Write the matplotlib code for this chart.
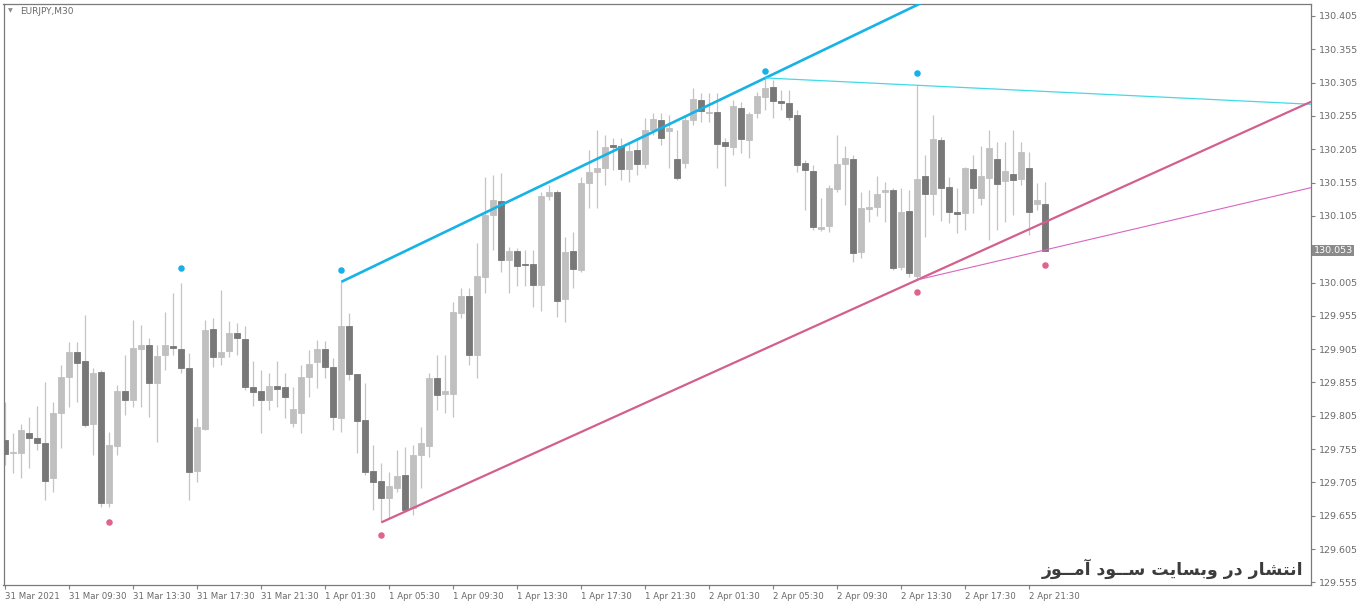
import matplotlib
matplotlib.use("Agg")
import matplotlib.pyplot as plt
import matplotlib.transforms as mtransforms

# EURJPY M30 - velas (31 Mar 05:30 .. 2 Apr 22:30)
opens = [129.768, 129.749, 129.749, 129.779, 129.771, 129.764, 129.711, 129.809, 129.863, 129.900,
         129.887, 129.792, 129.870, 129.674, 129.759, 129.842, 129.828, 129.905, 129.911, 129.854,
         129.896, 129.909, 129.905, 129.876, 129.722, 129.785, 129.935, 129.893, 129.902, 129.929,
         129.920, 129.848, 129.842, 129.828, 129.849, 129.848, 129.794, 129.809, 129.863, 129.885,
         129.905, 129.878, 129.801, 129.939, 129.867, 129.798, 129.722, 129.707, 129.681, 129.696,
         129.716, 129.666, 129.746, 129.759, 129.861, 129.837, 129.837, 129.959, 129.985, 129.896,
         130.013, 130.106, 130.127, 130.039, 130.052, 130.033, 130.033, 130.001, 130.135, 130.141,
         129.980, 130.052, 130.024, 130.154, 130.171, 130.177, 130.211, 130.210, 130.175, 130.204,
         130.183, 130.234, 130.249, 130.232, 130.190, 130.184, 130.249, 130.279, 130.259, 130.261,
         130.216, 130.208, 130.267, 130.219, 130.259, 130.283, 130.298, 130.277, 130.274, 130.256,
         130.184, 130.172, 130.085, 130.090, 130.145, 130.183, 130.190, 130.051, 130.115, 130.118,
         130.141, 130.144, 130.028, 130.112, 130.015, 130.165, 130.138, 130.219, 130.148, 130.111,
         130.109, 130.175, 130.132, 130.162, 130.190, 130.157, 130.168, 130.160, 130.177, 130.123,
         130.123]
highs = [129.825, 129.779, 129.792, 129.803, 129.819, 129.855, 129.825, 129.881, 129.916, 129.916,
         129.956, 129.876, 129.873, 129.780, 129.851, 129.896, 129.949, 129.941, 129.921, 129.911,
         129.961, 129.989, 130.004, 129.899, 129.801, 129.949, 129.952, 129.994, 129.947, 129.944,
         129.939, 129.887, 129.873, 129.869, 129.887, 129.869, 129.848, 129.881, 129.903, 129.918,
         129.917, 129.891, 130.006, 129.959, 129.868, 129.854, 129.761, 129.734, 129.720, 129.753,
         129.758, 129.761, 129.788, 129.869, 129.896, 129.896, 129.976, 129.997, 129.997, 130.064,
         130.163, 130.166, 130.169, 130.058, 130.057, 130.054, 130.054, 130.141, 130.151, 130.144,
         130.073, 130.081, 130.163, 130.204, 130.234, 130.226, 130.222, 130.222, 130.216, 130.222,
         130.252, 130.259, 130.259, 130.256, 130.234, 130.256, 130.297, 130.289, 130.289, 130.289,
         130.222, 130.279, 130.276, 130.261, 130.291, 130.312, 130.309, 130.294, 130.294, 130.264,
         130.189, 130.181, 130.132, 130.151, 130.226, 130.210, 130.196, 130.141, 130.144, 130.165,
         130.156, 130.147, 130.147, 130.144, 130.301, 130.196, 130.256, 130.223, 130.163, 130.147,
         130.178, 130.196, 130.210, 130.234, 130.216, 130.216, 130.234, 130.216, 130.201, 130.154,
         130.156]
lows = [129.731, 129.719, 129.711, 129.726, 129.753, 129.678, 129.690, 129.756, 129.818, 129.825,
        129.788, 129.746, 129.668, 129.668, 129.746, 129.806, 129.818, 129.818, 129.803, 129.765,
        129.873, 129.896, 129.869, 129.678, 129.705, 129.783, 129.878, 129.881, 129.893, 129.896,
        129.843, 129.819, 129.779, 129.813, 129.818, 129.801, 129.788, 129.779, 129.833, 129.846,
        129.861, 129.783, 129.780, 129.858, 129.749, 129.716, 129.663, 129.645, 129.651, 129.690,
        129.663, 129.656, 129.696, 129.743, 129.813, 129.809, 129.803, 129.952, 129.881, 129.861,
        129.989, 130.054, 130.021, 129.989, 130.000, 130.000, 129.968, 129.962, 130.129, 129.953,
        129.946, 129.997, 130.021, 130.117, 130.117, 130.151, 130.174, 130.159, 130.156, 130.166,
        130.177, 130.226, 130.211, 130.177, 130.159, 130.177, 130.241, 130.246, 130.246, 130.177,
        130.150, 130.196, 130.199, 130.192, 130.252, 130.264, 130.252, 130.264, 130.249, 130.171,
        130.114, 130.084, 130.083, 130.081, 130.141, 130.121, 130.036, 130.042, 130.096, 130.105,
        130.096, 130.024, 130.024, 130.013, 130.009, 130.073, 130.106, 130.097, 130.094, 130.079,
        130.084, 130.109, 130.121, 130.069, 130.084, 130.096, 130.106, 130.151, 130.076, 130.114,
        130.054]
closes = [129.747, 129.750, 129.783, 129.771, 129.764, 129.707, 129.809, 129.863, 129.900, 129.884,
          129.791, 129.869, 129.674, 129.761, 129.842, 129.828, 129.906, 129.911, 129.854, 129.894,
          129.911, 129.906, 129.876, 129.720, 129.788, 129.934, 129.893, 129.900, 129.929, 129.921,
          129.848, 129.840, 129.828, 129.849, 129.845, 129.833, 129.815, 129.863, 129.883, 129.905,
          129.878, 129.803, 129.939, 129.867, 129.797, 129.720, 129.705, 129.681, 129.699, 129.714,
          129.664, 129.746, 129.764, 129.861, 129.836, 129.842, 129.961, 129.985, 129.896, 130.015,
          130.106, 130.129, 130.039, 130.052, 130.030, 130.032, 130.001, 130.135, 130.141, 129.977,
          130.051, 130.025, 130.154, 130.171, 130.177, 130.208, 130.208, 130.175, 130.202, 130.183,
          130.234, 130.250, 130.222, 130.237, 130.162, 130.249, 130.280, 130.262, 130.261, 130.213,
          130.210, 130.270, 130.220, 130.258, 130.285, 130.297, 130.277, 130.274, 130.253, 130.181,
          130.174, 130.088, 130.088, 130.147, 130.183, 130.192, 130.049, 130.117, 130.118, 130.138,
          130.144, 130.027, 130.111, 130.019, 130.160, 130.138, 130.220, 130.147, 130.111, 130.108,
          130.177, 130.147, 130.165, 130.207, 130.153, 130.172, 130.159, 130.201, 130.111, 130.129,
          130.053]

# fractales (puntos)
frac_up_bar = [22, 42, 95, 114]
frac_up_val = [130.027, 130.024, 130.322, 130.319]
frac_dn_bar = [13, 47, 114, 130]
frac_dn_val = [129.645, 129.626, 129.991, 130.031]

# lineas de tendencia: (barra1, barra2) sobre maximos / minimos
linea_azul = (42, 95)       # maximos
linea_cian = (95, 114)      # maximos
linea_rosa = (47, 114)      # minimos
linea_rosa_fina = (114, 130)  # minimos

etiquetas_x = ["31 Mar 2021", "31 Mar 09:30", "31 Mar 13:30", "31 Mar 17:30", "31 Mar 21:30",
               "1 Apr 01:30", "1 Apr 05:30", "1 Apr 09:30", "1 Apr 13:30", "1 Apr 17:30",
               "1 Apr 21:30", "2 Apr 01:30", "2 Apr 05:30", "2 Apr 09:30", "2 Apr 13:30",
               "2 Apr 17:30", "2 Apr 21:30"]
barras_por_etiqueta = 8
precios_y = [round(129.555 + 0.05 * k, 3) for k in range(18)]
ultimo = closes[-1]

gris_txt = "#6a6a6a"
plt.rcParams["font.family"] = ["DejaVu Sans"]

fig = plt.figure(figsize=(13.6, 6.06), dpi=100)
fig.patch.set_facecolor("white")
ax = fig.add_axes([3.5 / 1360, 21 / 606, 1307.5 / 1360, 581 / 606])

n = len(opens)
x = list(range(n))
sube = [c >= o for o, c in zip(opens, closes)]
col = ["#c0c0c0" if s else "#787878" for s in sube]

ax.vlines(x, lows, highs, color="#c4c4c4", lw=0.9, zorder=1)
base = [min(o, c) for o, c in zip(opens, closes)]
alto = [abs(c - o) for o, c in zip(opens, closes)]
ax.bar(x, alto, bottom=base, width=0.74, color=col, edgecolor=col, lw=0.6, zorder=2)

x_der = 163.2


def rayo(b1, b2, serie, **kw):
    y1, y2 = serie[b1], serie[b2]
    m = (y2 - y1) / (b2 - b1)
    ax.plot([b1, x_der], [y1, y1 + m * (x_der - b1)], solid_capstyle="butt", zorder=3, **kw)


rayo(*linea_azul, highs, color="#17b2e6", lw=1.9)
rayo(*linea_cian, highs, color="#3fdbe8", lw=0.9)
rayo(*linea_rosa, lows, color="#d35f8d", lw=1.6)
rayo(*linea_rosa_fina, lows, color="#d865c0", lw=0.8)

ax.scatter(frac_up_bar, frac_up_val, s=22, color="#17b0ea", zorder=4, lw=0)
ax.scatter(frac_dn_bar, frac_dn_val, s=22, color="#e0628e", zorder=4, lw=0)

ax.set_xlim(-0.225, x_der)
ax.set_ylim(129.551, 130.423)

ticks_x = list(range(0, barras_por_etiqueta * len(etiquetas_x), barras_por_etiqueta))
ax.set_xticks(ticks_x)
ax.set_xticklabels(etiquetas_x, ha="left")
ax.set_yticks(precios_y)
# la etiqueta bajo el precio actual queda tapada
ax.set_yticklabels(["" if abs(p - ultimo) < 0.02 else f"{p:.3f}" for p in precios_y])
ax.yaxis.tick_right()
ax.tick_params(axis="both", colors="#808080", labelcolor=gris_txt, length=3, width=0.8,
               direction="out")
ax.tick_params(axis="x", pad=2, labelsize=6.2)
ax.tick_params(axis="y", pad=3, labelsize=6.8)
for s in ax.spines.values():
    s.set_color("#7a7a7a")
    s.set_linewidth(0.9)

# precio actual
tr = mtransforms.blended_transform_factory(ax.transAxes, ax.transData)
ax.text(1.0019, ultimo, f"{ultimo:.3f}", transform=tr, ha="left", va="center",
        fontsize=6.8, color="white",
        bbox=dict(boxstyle="square,pad=0.15", fc="#8a8a8a", ec="none"), clip_on=False)

fig.text(8 / 1360, 1 - 11 / 606, "\u25bc", fontsize=4.5, color="#8a8a8a", va="center")
fig.text(20 / 1360, 1 - 11 / 606, "EURJPY,M30", fontsize=6.5, color=gris_txt, va="center")

# marca de agua (formas de presentacion arabes en orden visual)
marca = ("\ufeaf\ufeee\u0640\u0640\ufee3\ufe81 \ufea9\ufeee\u0640\u0640\ufeb3 "
         "\ufe96\ufef3\ufe8e\ufeb4\ufe91\ufeed \ufead\ufea9 \ufead\ufe8e\ufeb8\ufe98\ufee7\ufe8d")
fig.text(1303 / 1360, 1 - 569 / 606, marca, fontsize=12.5, fontweight="bold",
         color="#3c3c3c", ha="right", va="center")

fig.savefig("out.png", dpi=100, facecolor="white")
